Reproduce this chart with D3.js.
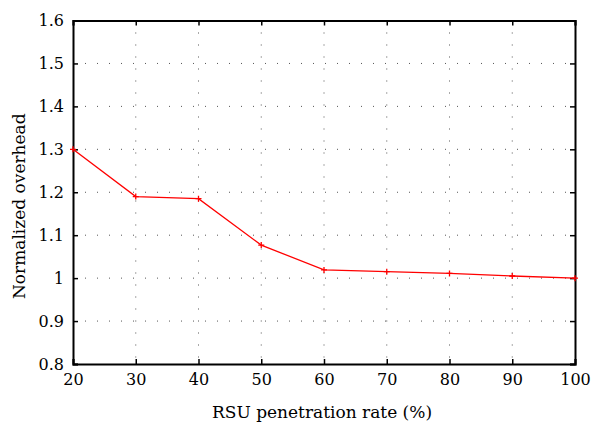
<!DOCTYPE html>
<html><head><meta charset="utf-8">
<script src="https://cdn.jsdelivr.net/npm/d3@7"></script>
<style>body{margin:0;background:#fff}svg{display:block}text{font-family:"DejaVu Serif","Liberation Serif",serif}</style>
</head><body>
<script>
const xValues = [20, 30, 40, 50, 60, 70, 80, 90, 100];
const overhead = [1.30, 1.19, 1.185, 1.077, 1.019, 1.015, 1.011, 1.005, 1.0];
const xTicks = [20, 30, 40, 50, 60, 70, 80, 90, 100];
const yTicks = [0.8, 0.9, 1.0, 1.1, 1.2, 1.3, 1.4, 1.5, 1.6];
const xLabel = "RSU penetration rate (%)";
const yLabel = "Normalized overhead";

const W = 591, H = 427;
const m = {l: 73, r: 16, t: 20.5, b: 63};
const svg = d3.select("body").append("svg").attr("width", W).attr("height", H);
const x = d3.scaleLinear().domain([20, 100]).range([m.l, W - m.r]);
const y = d3.scaleLinear().domain([0.8, 1.6]).range([H - m.b, m.t]);
const g = svg.append("g");

// grid
g.selectAll(".gx").data(xTicks.slice(1, -1)).join("line")
  .attr("x1", d => x(d)).attr("x2", d => x(d)).attr("y1", y(1.6)).attr("y2", y(0.8))
  .attr("stroke", "#555").attr("stroke-width", 1).attr("stroke-dasharray", "1,11");
g.selectAll(".gy").data(yTicks.slice(1, -1)).join("line")
  .attr("y1", d => y(d)).attr("y2", d => y(d)).attr("x1", x(20)).attr("x2", x(100))
  .attr("stroke", "#555").attr("stroke-width", 1).attr("stroke-dasharray", "1,11");

// axes
const fmtY = d => d === 1 ? "1" : d3.format(".1f")(d);
const ax = g.append("g").attr("transform", `translate(0,${y(0.8)})`)
  .call(d3.axisBottom(x).tickValues(xTicks).tickSize(-5).tickPadding(10));
const axT = g.append("g").attr("transform", `translate(0,${y(1.6)})`)
  .call(d3.axisTop(x).tickValues(xTicks).tickSize(-5).tickFormat(""));
const ay = g.append("g").attr("transform", `translate(${x(20)},0)`)
  .call(d3.axisLeft(y).tickValues(yTicks).tickSize(-5).tickPadding(9).tickFormat(fmtY));
const ayR = g.append("g").attr("transform", `translate(${x(100)},0)`)
  .call(d3.axisRight(y).tickValues(yTicks).tickSize(-5).tickFormat(""));
[ax, axT, ay, ayR].forEach(a => {
  a.select(".domain").attr("stroke", "#000").attr("stroke-width", 2);
  a.selectAll(".tick line").attr("stroke", "#000").attr("stroke-width", 1.5);
  a.selectAll("text").attr("font-size", 16).attr("fill", "#000")
    .style("font-family", '"DejaVu Serif","Liberation Serif",serif');
});

// line
const pts = xValues.map((v, i) => [v, overhead[i]]);
g.append("path").datum(pts)
  .attr("fill", "none").attr("stroke", "#f00").attr("stroke-width", 1.3)
  .attr("d", d3.line().x(d => x(d[0])).y(d => y(d[1])));
g.selectAll(".mk").data(pts).join("path")
  .attr("d", d => `M${x(d[0]) - 3},${y(d[1])}h6M${x(d[0])},${y(d[1]) - 3}v6`)
  .attr("stroke", "#f00").attr("stroke-width", 1.3);

// labels
svg.append("text").attr("x", (m.l + W - m.r) / 2 - 2).attr("y", 418)
  .attr("text-anchor", "middle").attr("font-size", 17).text(xLabel);
svg.append("text").attr("transform", `translate(25,${(m.t + H - m.b) / 2 + 14}) rotate(-90)`)
  .attr("text-anchor", "middle").attr("font-size", 17).text(yLabel);
</script>
</body></html>
